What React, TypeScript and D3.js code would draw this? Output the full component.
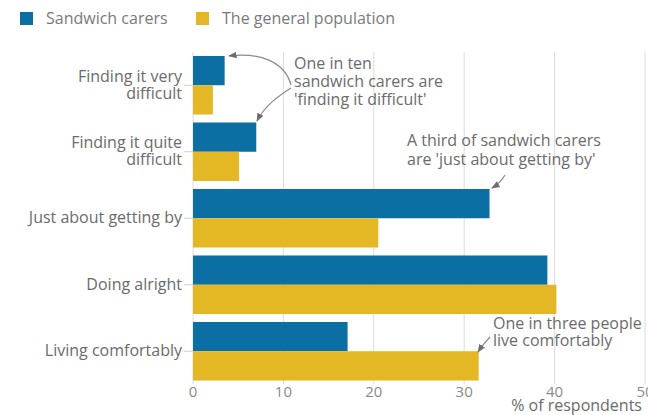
import React from "react";
import * as d3 from "d3";

const categories: string[][] = [
  ["Finding it very", "difficult"],
  ["Finding it quite", "difficult"],
  ["Just about getting by"],
  ["Doing alright"],
  ["Living comfortably"],
];
const seriesNames = ["Sandwich carers", "The general population"];
const sandwichCarers = [3.5, 7.0, 32.8, 39.2, 17.1];
const generalPopulation = [2.2, 5.1, 20.5, 40.2, 31.6];
const xTicks = [0, 10, 20, 30, 40, 50];
const colors = ["#0b6fa3", "#e3b824"];

const W = 648;
const H = 415;

export default function App() {
  const x = d3.scaleLinear().domain([0, 50]).range([193, 645]);
  const keys = categories.map((c) => c.join(" "));
  const y = d3.scaleBand().domain(keys).range([52, 384.5]).paddingInner(0.12).paddingOuter(0.06);
  const bw = y.bandwidth() / 2;
  const series = [sandwichCarers, generalPopulation];
  const textColor = "#6b6b6b";
  const font = "'Open Sans', 'Noto Sans', sans-serif";

  return (
    <svg
      width={W}
      height={H}
      style={{ position: "absolute", left: 0, top: 0, background: "#fff" }}
      fontFamily={font}
    >
      <defs>
        <marker id="ah" viewBox="0 0 10 10" refX="9" refY="5" markerWidth="7" markerHeight="7" orient="auto-start-reverse">
          <path d="M0,1 L10,5 L0,9 z" fill="#6e6e6e" />
        </marker>
      </defs>
      {/* legend */}
      {seriesNames.map((name, i) => {
        const lx = i === 0 ? 20 : 196;
        return (
          <g key={name}>
            <rect x={lx} y={12} width={13} height={13} fill={colors[i]} />
            <text x={lx + 26} y={24} fontSize={16} fill="#7a7a7a">{name}</text>
          </g>
        );
      })}
      {/* gridlines */}
      {xTicks.map((t) => (
        <line key={t} x1={x(t)} x2={x(t)} y1={52} y2={384} stroke="#dcdcdc" strokeWidth={1} />
      ))}
      {/* bars */}
      {keys.map((k, ci) =>
        series.map((s, si) => (
          <rect
            key={k + si}
            x={x(0)}
            y={(y(k) as number) + si * bw}
            width={x(s[ci]) - x(0)}
            height={bw}
            fill={colors[si]}
          />
        ))
      )}
      {/* y ticks and labels */}
      {categories.map((lines, ci) => {
        const cy = (y(keys[ci]) as number) + bw;
        return (
          <g key={keys[ci]}>
            <line x1={184} x2={193} y1={cy} y2={cy} stroke="#cfcfcf" />
            {lines.map((ln, li) => (
              <text
                key={li}
                x={182}
                y={cy + 5 + (li - (lines.length - 1) / 2) * 17}
                textAnchor="end"
                fontSize={16}
                fill={textColor}
              >
                {ln}
              </text>
            ))}
          </g>
        );
      })}
      {/* x tick labels */}
      {xTicks.map((t) => (
        <text key={t} x={x(t)} y={397} textAnchor="middle" fontSize={15} fill="#8a8a8a">
          {t}
        </text>
      ))}
      <text x={642} y={411} textAnchor="end" fontSize={16} fill={textColor}>% of respondents</text>

      {/* annotations */}
      <g fontSize={16} fill={textColor}>
        <text x={294} y={69}>One in ten</text>
        <text x={294} y={87}>sandwich carers are</text>
        <text x={294} y={105}>'finding it difficult'</text>
        <text x={407} y={146}>A third of sandwich carers</text>
        <text x={407} y={165}>are 'just about getting by'</text>
        <text x={493} y={329}>One in three people</text>
        <text x={493} y={346}>live comfortably</text>
      </g>
      <g fill="none" stroke="#8a8a8a" strokeWidth={1.2}>
        <path d="M291,85 C285,62 260,52 229,56" markerEnd="url(#ah)" />
        <path d="M291,88 C280,95 265,105 257,121" markerEnd="url(#ah)" />
        <path d="M505,175 C501,182 497,185 492,188" markerEnd="url(#ah)" />
        <path d="M490,337 C485,342 482,346 478,352" markerEnd="url(#ah)" />
      </g>
    </svg>
  );
}
